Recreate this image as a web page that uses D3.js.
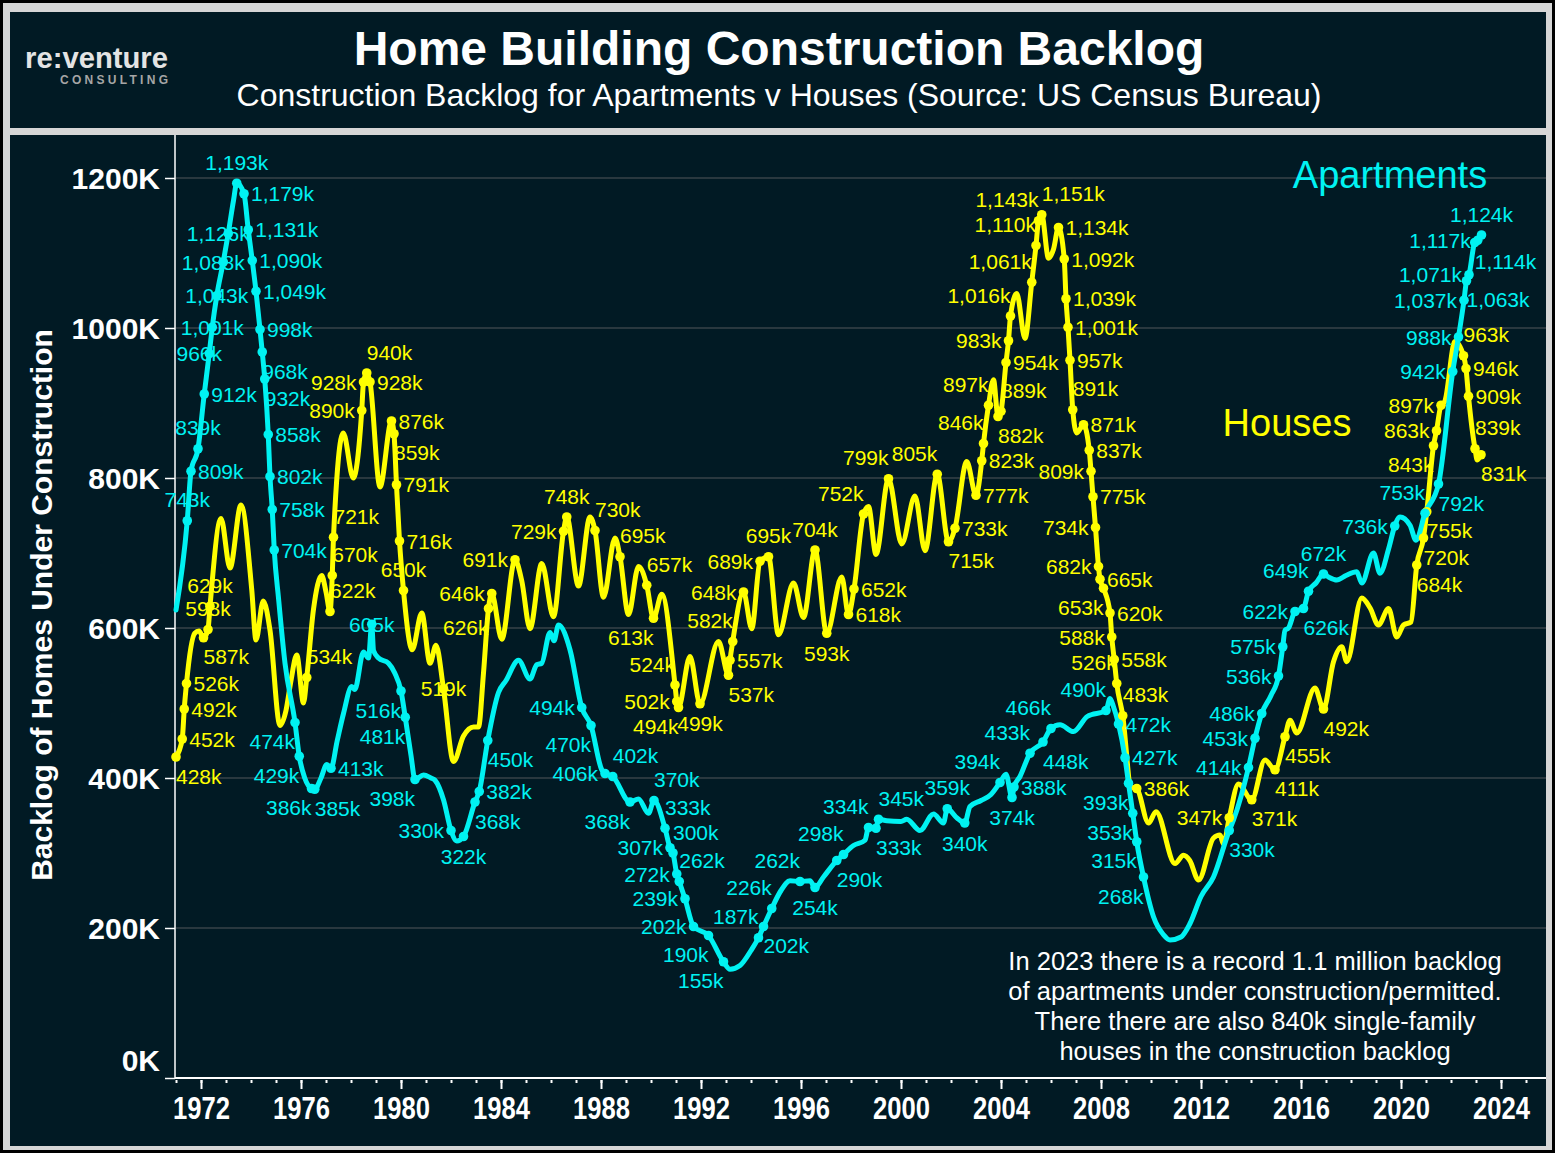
<!DOCTYPE html>
<html><head><meta charset="utf-8">
<script src="https://cdn.jsdelivr.net/npm/d3@7/dist/d3.min.js"></script>
<style>body{margin:0;background:#000}svg{display:block}</style>
</head><body>
<svg id="chart" width="1555" height="1153"></svg>
<script>
// ---------------- DATA ----------------
const apartments = [
[1971.0,624],[1971.45,743],[1971.6,809],[1971.88,839],[1972.13,912],[1972.33,966],[1972.45,1001],[1972.63,1043],[1972.89,1088],[1973.09,1126],[1973.3,1170],[1973.43,1193],[1973.72,1179],[1973.89,1131],[1974.05,1090],[1974.2,1049],[1974.36,998],[1974.45,968],[1974.55,932],[1974.69,858],[1974.76,802],[1974.85,758],[1974.93,704],[1975.1,640],[1975.36,553],[1975.76,474],[1975.93,429],[1976.15,400],[1976.42,386],[1976.55,385],[1976.8,400],[1977.03,418],[1977.2,413],[1977.45,450],[1977.7,486],[1978.03,522],[1978.15,518],[1978.5,568],[1978.7,560],[1978.83,605],[1978.9,570],[1979.1,560],[1979.5,553],[1979.75,540],[1980.0,516],[1980.17,481],[1980.4,430],[1980.56,398],[1980.9,404],[1981.2,400],[1981.36,397],[1981.7,371],[1982.0,330],[1982.23,316],[1982.5,322],[1982.96,368],[1983.13,382],[1983.47,450],[1983.9,514],[1984.2,530],[1984.7,557],[1985.16,532],[1985.43,551],[1985.63,553],[1985.96,594],[1986.12,583],[1986.3,604],[1986.76,571],[1987.23,494],[1987.6,470],[1988.03,411],[1988.16,406],[1988.47,402],[1989.16,368],[1989.5,372],[1989.9,353],[1990.12,370],[1990.56,333],[1990.76,307],[1990.88,300],[1991.03,272],[1991.13,262],[1991.36,239],[1991.7,202],[1992.3,190],[1992.9,155],[1993.16,145],[1993.56,150],[1994.0,170],[1994.3,187],[1994.5,202],[1994.83,226],[1995.2,250],[1995.56,263],[1995.96,262],[1996.36,263],[1996.56,254],[1996.9,268],[1997.43,290],[1997.7,298],[1998.1,310],[1998.56,317],[1998.7,334],[1999.0,333],[1999.1,345],[1999.43,343],[2000.0,342],[2000.23,345],[2000.76,330],[2001.3,352],[2001.7,340],[2001.85,359],[2002.23,347],[2002.55,340],[2002.76,362],[2003.2,370],[2003.6,378],[2003.96,394],[2004.2,405],[2004.44,374],[2004.52,388],[2004.76,402],[2005.16,433],[2005.68,448],[2006.0,466],[2006.36,471],[2006.9,462],[2007.45,482],[2008.2,490],[2008.36,506],[2008.5,495],[2008.7,472],[2008.96,427],[2009.1,393],[2009.27,353],[2009.43,315],[2009.7,268],[2010.1,215],[2010.5,191],[2010.76,184],[2011.2,188],[2011.56,206],[2012.0,242],[2012.5,268],[2013.13,330],[2013.3,344],[2013.9,414],[2014.16,453],[2014.43,486],[2014.8,510],[2015.1,536],[2015.27,575],[2015.36,597],[2015.5,600],[2015.76,622],[2016.1,626],[2016.3,649],[2016.6,660],[2016.9,672],[2017.1,668],[2017.43,664],[2017.8,670],[2018.23,675],[2018.43,660],[2018.9,700],[2019.16,673],[2019.5,705],[2019.75,736],[2019.96,748],[2020.36,737],[2020.6,717],[2020.96,753],[2021.5,792],[2022.07,942],[2022.3,988],[2022.52,1037],[2022.62,1063],[2022.72,1071],[2022.95,1114],[2023.07,1117],[2023.22,1124]
];
const houses = [
[1971.0,428],[1971.25,452],[1971.33,492],[1971.42,526],[1971.75,593],[1971.92,596],[1972.1,587],[1972.28,598],[1972.36,629],[1972.8,746],[1973.16,680],[1973.6,764],[1974.03,651],[1974.2,584],[1974.49,636],[1974.76,597],[1975.16,470],[1975.4,490],[1975.6,530],[1975.83,564],[1976.1,500],[1976.23,534],[1976.5,625],[1976.83,670],[1977.0,648],[1977.16,622],[1977.25,670],[1977.3,721],[1977.69,860],[1978.09,800],[1978.43,890],[1978.5,928],[1978.63,940],[1978.76,928],[1979.16,788],[1979.62,876],[1979.72,859],[1979.82,791],[1979.94,716],[1980.1,650],[1980.45,571],[1980.83,620],[1981.16,553],[1981.4,577],[1981.7,519],[1982.1,422],[1982.5,456],[1982.9,468],[1983.1,468],[1983.3,540],[1983.5,626],[1983.63,646],[1984.03,585],[1984.56,691],[1984.83,663],[1985.16,599],[1985.63,686],[1986.1,615],[1986.5,729],[1986.63,748],[1987.1,656],[1987.56,748],[1987.76,730],[1988.1,641],[1988.56,720],[1988.76,695],[1989.1,618],[1989.5,682],[1989.83,657],[1990.1,613],[1990.43,645],[1990.96,524],[1991.03,502],[1991.1,494],[1991.56,562],[1991.96,499],[1992.7,582],[1993.1,537],[1993.16,557],[1993.27,582],[1993.7,648],[1994.03,599],[1994.36,689],[1994.7,695],[1995.1,591],[1995.7,660],[1996.1,614],[1996.56,704],[1997.03,593],[1997.63,668],[1997.9,618],[1998.12,652],[1998.5,752],[1998.7,762],[1999.0,698],[1999.5,799],[2000.03,712],[2000.56,776],[2000.96,703],[2001.45,805],[2001.9,715],[2002.16,733],[2002.63,822],[2003.0,777],[2003.23,823],[2003.3,846],[2003.5,897],[2003.7,931],[2003.88,882],[2004.0,889],[2004.2,954],[2004.3,983],[2004.38,1016],[2004.63,1046],[2004.96,986],[2005.23,1061],[2005.4,1110],[2005.5,1143],[2005.63,1151],[2005.9,1093],[2006.1,1105],[2006.3,1134],[2006.53,1092],[2006.6,1039],[2006.68,1001],[2006.76,957],[2006.87,891],[2007.03,860],[2007.3,871],[2007.53,837],[2007.6,809],[2007.68,775],[2007.78,734],[2007.9,682],[2007.96,665],[2008.1,653],[2008.36,620],[2008.43,588],[2008.53,558],[2008.63,526],[2008.87,483],[2009.2,388],[2009.43,386],[2009.9,340],[2010.2,355],[2010.96,286],[2011.3,297],[2011.55,290],[2011.9,264],[2012.5,320],[2012.76,324],[2012.9,312],[2013.13,347],[2013.5,392],[2014.03,371],[2014.56,424],[2014.96,411],[2015.36,455],[2015.56,477],[2015.83,460],[2016.56,520],[2016.9,492],[2017.3,555],[2017.63,575],[2017.83,555],[2018.43,640],[2018.76,627],[2019.1,604],[2019.5,626],[2019.83,588],[2020.1,604],[2020.4,608],[2020.63,684],[2020.9,720],[2021.03,755],[2021.3,843],[2021.42,863],[2021.6,897],[2021.75,902],[2022.16,982],[2022.5,963],[2022.6,946],[2022.7,909],[2022.96,839],[2023.05,824],[2023.2,831]
];
const yTickValues = [0,200,400,600,800,1000,1200];
const xMajorYears = [1972,1976,1980,1984,1988,1992,1996,2000,2004,2008,2012,2016,2020,2024];
const xMinorYears = d3.range(1971,2026);
const titleText = "Home Building Construction Backlog";
const subtitleText = "Construction Backlog for Apartments v Houses (Source: US Census Bureau)";
const yAxisTitle = "Backlog of Homes Under Construction";
const noteLines = ["In 2023 there is a record 1.1 million backlog","of apartments under construction/permitted.","There there are also 840k single-family","houses in the construction backlog"];

// label placement (which points carry a value label, and on which side)
const aptLabelSide = {1971.45:"t",1971.6:"r",1971.88:"t",1972.13:"r",1972.33:"cl",1972.45:"c",1972.63:"c",1972.89:"cl",1973.09:"cl",1973.43:"t",1973.72:"r",1973.89:"r",1974.05:"r",1974.2:"r",1974.36:"r",1974.45:"br",1974.55:"br",1974.69:"r",1974.76:"r",1974.85:"r",1974.93:"r",1975.76:"bl",1975.93:"bl",1976.42:"bl",1976.55:"br",1977.2:"r",1978.83:"c",1980.0:"bl",1980.17:"bl",1980.56:"bl",1982.0:"l",1982.5:"b",1982.96:"br",1983.13:"r",1983.47:"br",1987.23:"l",1987.6:"bl",1988.16:"l",1988.47:"tr",1989.16:"bl",1990.12:"tr",1990.56:"tr",1990.76:"l",1990.88:"tr",1991.03:"l",1991.13:"tr",1991.36:"l",1991.7:"l",1992.3:"bl",1992.9:"bl",1994.3:"tl",1994.5:"br",1994.83:"tl",1995.96:"tl",1996.56:"b",1997.43:"br",1997.7:"tl",1998.7:"tl",1999.0:"br",1999.1:"tr",2001.85:"t",2002.55:"b",2003.96:"tl",2004.44:"b",2004.52:"r",2005.16:"tl",2005.68:"br",2006.0:"tl",2008.2:"tl",2008.7:"r",2008.96:"r",2009.1:"bl",2009.27:"bl",2009.43:"bl",2009.7:"bl",2013.13:"br",2013.9:"l",2014.16:"l",2014.43:"l",2015.1:"l",2015.27:"l",2015.76:"l",2016.1:"br",2016.3:"tl",2016.9:"t",2019.75:"l",2020.96:"tl",2021.5:"br",2022.07:"l",2022.3:"l",2022.52:"l",2022.62:"br",2022.72:"l",2022.95:"br",2023.07:"l",2023.22:"t"};
const houseLabelSide = {1971.0:"br",1971.25:"r",1971.33:"r",1971.42:"r",1972.1:"br",1972.28:"t",1972.36:"t",1976.23:"tr",1977.16:"tr",1977.25:"tr",1977.3:"tr",1978.43:"l",1978.5:"l",1978.63:"tr",1978.76:"r",1979.62:"r",1979.72:"br",1979.82:"r",1979.94:"r",1980.1:"t",1981.7:"c",1983.5:"bl",1983.63:"l",1984.56:"l",1986.5:"l",1986.63:"t",1987.76:"tr",1988.76:"tr",1989.83:"tr",1990.1:"bl",1990.96:"tl",1991.03:"l",1991.1:"bl",1991.96:"b",1993.1:"br",1993.16:"r",1993.27:"tl",1993.7:"l",1994.36:"l",1994.7:"t",1996.56:"t",1997.03:"b",1997.9:"r",1998.12:"r",1998.5:"tl",1999.5:"tl",2001.45:"tl",2001.9:"br",2002.16:"r",2003.0:"r",2003.23:"r",2003.3:"tl",2003.5:"tl",2003.88:"br",2004.0:"tr",2004.2:"r",2004.3:"l",2004.38:"tl",2005.23:"tl",2005.4:"tl",2005.5:"tl",2005.63:"tr",2006.3:"r",2006.53:"r",2006.6:"r",2006.68:"r",2006.76:"r",2006.87:"tr",2007.3:"r",2007.53:"r",2007.6:"l",2007.68:"r",2007.78:"l",2007.9:"l",2007.96:"r",2008.1:"bl",2008.36:"r",2008.43:"l",2008.53:"r",2008.63:"tl",2008.87:"tr",2009.43:"r",2013.13:"l",2014.03:"br",2014.96:"br",2015.36:"br",2016.9:"br",2020.63:"br",2020.9:"br",2021.03:"br",2021.3:"bl",2021.42:"l",2021.6:"l",2022.5:"tr",2022.6:"r",2022.7:"r",2022.96:"tr",2023.2:"br"};

// ---------------- DRAWING ----------------
const W = 1555, H = 1153;
const BG = "#011a24";
const CYAN = "#00f2f2", YELLOW = "#ffff00";
const FONT = "'Liberation Sans', Arial, sans-serif";
const svg = d3.select("#chart");

svg.append("rect").attr("width", W).attr("height", H).attr("fill", "#000");
svg.append("rect").attr("x", 3).attr("y", 3).attr("width", 1549).attr("height", 1147).attr("fill", "#d6d6d6");
svg.append("rect").attr("x", 10).attr("y", 12).attr("width", 1536).attr("height", 116).attr("fill", BG);
svg.append("rect").attr("x", 10).attr("y", 135).attr("width", 1536).attr("height", 1011).attr("fill", BG);

// header
svg.append("text").attr("x", 25).attr("y", 68).attr("font-family", FONT).attr("font-weight", 700)
  .attr("font-size", 29).attr("fill", "#e4e4e4").attr("textLength", 143).attr("lengthAdjust", "spacingAndGlyphs").text("re:venture");
svg.append("text").attr("x", 60).attr("y", 84).attr("font-family", FONT).attr("font-weight", 700)
  .attr("font-size", 12).attr("fill", "#a6a6a6").attr("textLength", 108).attr("lengthAdjust", "spacing").text("CONSULTING");
svg.append("text").attr("x", 779).attr("y", 65).attr("text-anchor", "middle").attr("font-family", FONT)
  .attr("font-weight", 700).attr("font-size", 48).attr("fill", "#fff").text(titleText);
svg.append("text").attr("x", 779).attr("y", 106).attr("text-anchor", "middle").attr("font-family", FONT)
  .attr("font-size", 32).attr("fill", "#fff").text(subtitleText);

// scales
const x = d3.scaleLinear().domain([1972, 2024]).range([201, 1501]);
const y = d3.scaleLinear().domain([0, 1200]).range([1078, 178]);

// grid
svg.append("g").selectAll("line").data(yTickValues.filter(d => d > 0)).join("line")
  .attr("x1", 176).attr("x2", 1546).attr("y1", d => y(d)).attr("y2", d => y(d))
  .attr("stroke", "#29383f").attr("stroke-width", 2);

// y axis
const yAxis = svg.append("g").attr("transform", "translate(175,0)")
  .call(d3.axisLeft(y).tickValues(yTickValues).tickFormat(d => d + "K").tickSize(10).tickPadding(5));
yAxis.select(".domain").remove();
yAxis.selectAll(".tick line").attr("stroke", "#fff").attr("stroke-width", 1.5);
yAxis.selectAll(".tick text").attr("fill", "#fff").attr("font-family", FONT).attr("font-weight", 700).attr("font-size", 30)
  .attr("dy", d => d === 0 ? "-0.25em" : "0.36em");
svg.append("line").attr("x1", 175).attr("x2", 175).attr("y1", 135).attr("y2", 1079).attr("stroke", "#fff").attr("stroke-width", 1.5);

// x axis
const xMinor = svg.append("g").attr("transform", "translate(0,1080)")
  .call(d3.axisBottom(x).tickValues(xMinorYears).tickSize(3).tickFormat(""));
xMinor.select(".domain").remove();
xMinor.selectAll(".tick line").attr("stroke", "#fff").attr("stroke-width", 2);
const xAxis = svg.append("g").attr("transform", "translate(0,1080)")
  .call(d3.axisBottom(x).tickValues(xMajorYears).tickSize(9).tickPadding(8).tickFormat(d3.format("d")));
xAxis.select(".domain").remove();
xAxis.selectAll(".tick line").attr("stroke", "#fff").attr("stroke-width", 2);
xAxis.selectAll(".tick text").attr("fill", "#fff").attr("font-family", FONT).attr("font-weight", 700).attr("font-size", 31)
  .attr("textLength", 57).attr("lengthAdjust", "spacingAndGlyphs");
svg.append("line").attr("x1", 175).attr("x2", 1546).attr("y1", 1078).attr("y2", 1078).attr("stroke", "#fff").attr("stroke-width", 2);

// y axis title
svg.append("text").attr("transform", "translate(52,605) rotate(-90)").attr("text-anchor", "middle")
  .attr("font-family", FONT).attr("font-weight", 700).attr("font-size", 30).attr("fill", "#fff").text(yAxisTitle);

// lines
const line = d3.line().x(d => x(d[0])).y(d => y(d[1])).curve(d3.curveMonotoneX);
svg.append("path").datum(houses).attr("d", line).attr("fill", "none").attr("stroke", YELLOW)
  .attr("stroke-width", 5).attr("stroke-linejoin", "round").attr("stroke-linecap", "round");
svg.append("path").datum(apartments).attr("d", line).attr("fill", "none").attr("stroke", CYAN)
  .attr("stroke-width", 5).attr("stroke-linejoin", "round").attr("stroke-linecap", "round");

// dots + labels
const place = {r:[7,0,"start"], l:[-7,0,"end"], t:[0,-21,"middle"], b:[0,20,"middle"],
  tr:[0,-21,"start"], tl:[0,-21,"end"], br:[0,19,"start"], bl:[0,19,"end"], c:[0,0,"middle"], cl:[-10,0,"middle"]};
const fmt = v => d3.format(",")(v) + "k";
function marks(data, sides, color) {
  const pts = data.filter(d => sides[d[0]] !== undefined);
  svg.append("g").selectAll("circle").data(pts).join("circle")
    .attr("cx", d => x(d[0])).attr("cy", d => y(d[1])).attr("r", 4.8).attr("fill", color);
  return pts;
}
const hp = marks(houses, houseLabelSide, YELLOW);
const ap = marks(apartments, aptLabelSide, CYAN);
function labels(pts, sides, color) {
  svg.append("g").selectAll("text").data(pts).join("text")
    .attr("x", d => x(d[0]) + place[sides[d[0]]][0])
    .attr("y", d => y(d[1]) + place[sides[d[0]]][1])
    .attr("dy", "0.36em")
    .attr("text-anchor", d => place[sides[d[0]]][2])
    .attr("font-family", FONT).attr("font-size", 21).attr("fill", color)
    .text(d => fmt(d[1]));
}
labels(hp, houseLabelSide, YELLOW);
labels(ap, aptLabelSide, CYAN);

// series names
svg.append("text").attr("x", 1390).attr("y", 188).attr("text-anchor", "middle").attr("font-family", FONT)
  .attr("font-size", 38).attr("fill", CYAN).text("Apartments");
svg.append("text").attr("x", 1287).attr("y", 436).attr("text-anchor", "middle").attr("font-family", FONT)
  .attr("font-size", 38).attr("fill", YELLOW).text("Houses");

// note
svg.append("g").selectAll("text").data(noteLines).join("text")
  .attr("x", 1255).attr("y", (d, i) => 970 + i * 30).attr("text-anchor", "middle")
  .attr("font-family", FONT).attr("font-size", 25.5).attr("fill", "#fff").text(d => d);
</script>
</body></html>
